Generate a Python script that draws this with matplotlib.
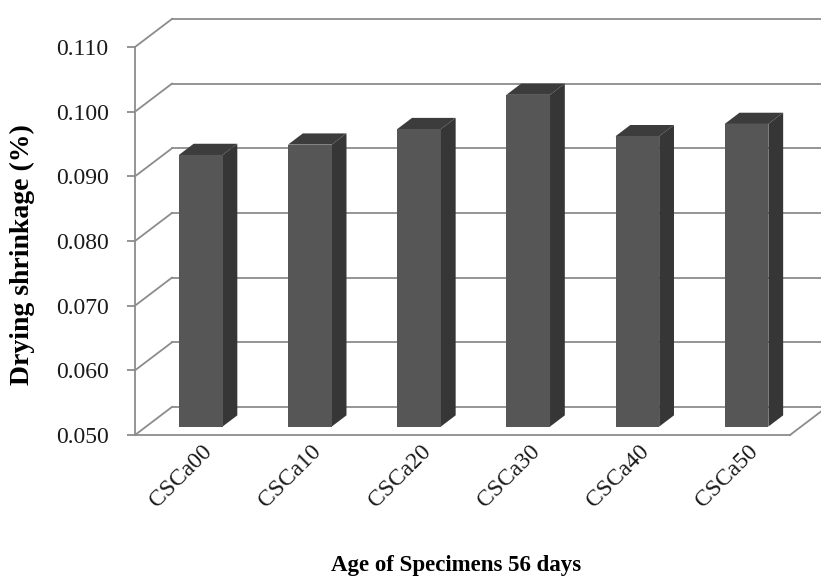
import matplotlib
matplotlib.use("Agg")
import matplotlib.pyplot as plt
import matplotlib.transforms as mtransforms
from matplotlib.patches import Polygon

# drying shrinkage at 56 days
samples = ["CSCa00", "CSCa10", "CSCa20", "CSCa30", "CSCa40", "CSCa50"]
shrinkage = [0.0920, 0.0936, 0.0960, 0.1013, 0.0949, 0.0968]
y_ticks = [0.050, 0.060, 0.070, 0.080, 0.090, 0.100, 0.110]

Y_MIN, Y_MAX = 0.050, 0.110

# oblique depth of the 3-D box (category units, value units)
DX = 0.339
DY = 0.00434
BAR_W = 0.40
BAR_F0, BAR_F1 = 0.30, 0.70   # front / back of the bars as a fraction of depth

GRID = "#8c8c8c"
SERIF = "Liberation Serif"


def proj(x, y, f):
    return (x + f * DX, y + f * DY)


fig = plt.figure(figsize=(8.21, 5.81), dpi=100)
fig.set_facecolor("white")
ax = fig.add_axes([135 / 821, (581 - 435) / 581, 655 / 821, 388 / 581])
ax.set_xlim(0, len(samples))
ax.set_ylim(Y_MIN, Y_MAX)
ax.set_facecolor("none")

# back wall gridlines with the diagonal run back from the front axis
for v in y_ticks:
    ax.plot([0, DX], [v, v + DY], color=GRID, lw=1.3, clip_on=False, zorder=1)
    ax.plot([DX, len(samples) + DX + 1], [v + DY, v + DY], color=GRID, lw=1.3,
            clip_on=False, zorder=1)

# floor right edge
ax.plot([len(samples), len(samples) + DX], [Y_MIN, Y_MIN + DY], color=GRID,
        lw=1.3, clip_on=False, zorder=1)

# bars as boxes: front, side, top
for i, v in enumerate(shrinkage):
    c = i + 0.5
    l, r = c - BAR_W / 2, c + BAR_W / 2
    front = [proj(l, Y_MIN, BAR_F0), proj(r, Y_MIN, BAR_F0),
             proj(r, v, BAR_F0), proj(l, v, BAR_F0)]
    side = [proj(r, Y_MIN, BAR_F0), proj(r, Y_MIN, BAR_F1),
            proj(r, v, BAR_F1), proj(r, v, BAR_F0)]
    top = [proj(l, v, BAR_F0), proj(r, v, BAR_F0),
           proj(r, v, BAR_F1), proj(l, v, BAR_F1)]
    ax.add_patch(Polygon(side, closed=True, facecolor="#363636",
                         edgecolor="none", clip_on=False, zorder=3))
    ax.add_patch(Polygon(top, closed=True, facecolor="#3c3c3c",
                         edgecolor="none", clip_on=False, zorder=3))
    ax.add_patch(Polygon(front, closed=True, facecolor="#565656",
                         edgecolor="none", clip_on=False, zorder=4))

for s in ("top", "right"):
    ax.spines[s].set_visible(False)
for s in ("left", "bottom"):
    ax.spines[s].set_color(GRID)
    ax.spines[s].set_linewidth(1.3)

ax.set_yticks(y_ticks)
ax.set_yticklabels([f"{t:.3f}" for t in y_ticks])
ax.tick_params(axis="y", direction="out", length=6, width=1.3, color=GRID,
               pad=13, labelsize=17, labelcolor="#1a1a1a")
for lab in ax.get_yticklabels():
    lab.set_family(SERIF)

ax.set_xticks([i + 0.5 for i in range(len(samples))])
ax.set_xticklabels(samples, rotation=45, ha="right", va="top",
                   rotation_mode="anchor", family=SERIF, fontsize=17,
                   color="#1a1a1a")
ax.tick_params(axis="x", length=0, pad=4)
shift = mtransforms.ScaledTranslation(12 / 100, 0, fig.dpi_scale_trans)
for lab in ax.get_xticklabels():
    lab.set_transform(lab.get_transform() + shift)

ax.set_ylabel("Drying shrinkage (%)", family=SERIF, fontweight="bold",
              fontsize=20)
ax.yaxis.set_label_coords(-0.152, 0.465)
ax.set_xlabel("Age of Specimens 56 days", family=SERIF, fontweight="bold",
              fontsize=16.5)
ax.xaxis.set_label_coords(0.49, -0.308)

fig.savefig("out.png", dpi=100)
